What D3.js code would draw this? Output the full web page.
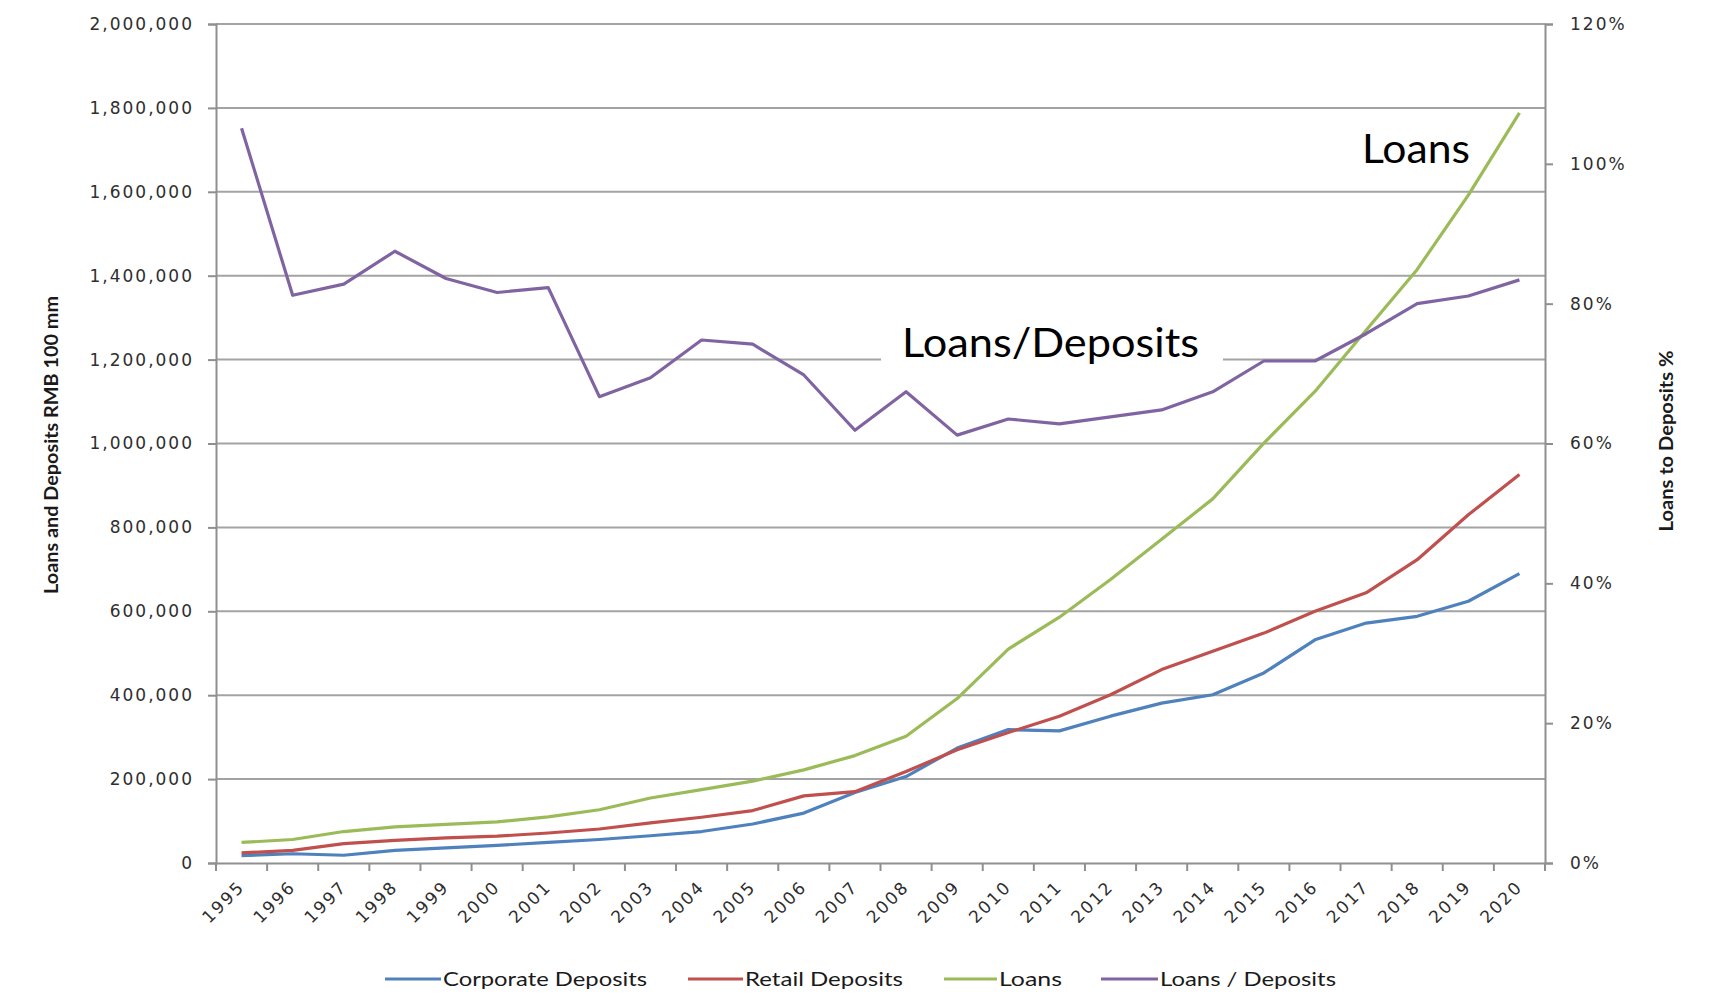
<!DOCTYPE html>
<html>
<head>
<meta charset="utf-8">
<script src="https://cdn.jsdelivr.net/npm/d3@7"></script>
<style>
  html, body { margin: 0; padding: 0; background: #ffffff; }
  svg { display: block; }
</style>
</head>
<body>
<svg id="chart" width="1709" height="1007"></svg>
<script>
// ---------------- data ----------------
const years = ["1995","1996","1997","1998","1999","2000","2001","2002","2003","2004","2005","2006","2007",
               "2008","2009","2010","2011","2012","2013","2014","2015","2016","2017","2018","2019","2020"];
const corporateDeposits = [17500, 22000, 18500, 30000, 36000, 42000, 49000, 56000, 65000, 75000, 93000, 119000, 168000,
                           206000, 274000, 318000, 315000, 350000, 381000, 401000, 453000, 532000, 572000, 588000, 624000, 690000];
const retailDeposits = [24000, 30000, 46000, 54000, 60000, 64000, 71500, 81000, 95500, 109000, 125000, 160000, 170000,
                        218000, 270000, 311000, 350000, 401000, 461000, 505000, 548000, 600000, 644000, 723000, 830000, 926000];
const loans = [49000, 56000, 75000, 86000, 92000, 98000, 110000, 127000, 155000, 175000, 195000, 222000, 256000,
               302000, 392000, 510000, 586000, 676000, 772000, 868000, 1001000, 1124000, 1270000, 1415000, 1592000, 1788000];
const loansToDeposits = [1.051, 0.812, 0.828, 0.875, 0.836, 0.816, 0.823, 0.667, 0.694, 0.748, 0.742, 0.698, 0.619,
                         0.674, 0.612, 0.635, 0.628, 0.638, 0.648, 0.674, 0.718, 0.718, 0.757, 0.800, 0.811, 0.834];
const leftTicks = [0, 200000, 400000, 600000, 800000, 1000000, 1200000, 1400000, 1600000, 1800000, 2000000];
const rightTicks = [0, 0.2, 0.4, 0.6, 0.8, 1.0, 1.2];
const seriesNames = ["Corporate Deposits", "Retail Deposits", "Loans", "Loans / Deposits"];
const seriesColors = ["#4F81BD", "#C0504D", "#9BBB59", "#8064A2"];
const leftTitle = "Loans and Deposits RMB 100 mm";
const rightTitle = "Loans to Deposits %";

// ---------------- layout ----------------
const svg = d3.select("#chart");
const L = 216, R = 1545, T = 24, B = 863;

const x = d3.scaleBand().domain(years).range([L, R]).padding(0);
const cx = d => x(d) + x.bandwidth() / 2;
const yL = d3.scaleLinear().domain([0, 2000000]).range([B, T]);
const yR = d3.scaleLinear().domain([0, 1.2]).range([B, T]);

const tickFont = "'DejaVu Sans', Verdana, sans-serif";
const axisGrey = "#8f8f8f";
const labelFill = "#2e2e2e";

// gridlines
svg.append("g").selectAll("line")
  .data(leftTicks.filter(v => v > 0))
  .join("line")
  .attr("x1", L).attr("x2", R)
  .attr("y1", d => yL(d)).attr("y2", d => yL(d))
  .attr("stroke", "#a3a3a3").attr("stroke-width", 2);

// left axis
const gL = svg.append("g").attr("transform", `translate(${L},0)`)
  .call(d3.axisLeft(yL).tickValues(leftTicks).tickFormat(d3.format(",")).tickSize(8).tickPadding(14));
gL.select(".domain").attr("stroke", axisGrey).attr("stroke-width", 2);
gL.selectAll(".tick line").attr("stroke", axisGrey).attr("stroke-width", 2);
gL.selectAll(".tick text").attr("font-family", tickFont).attr("font-size", 17)
  .attr("letter-spacing", "2px").attr("fill", labelFill);

// right axis
const gR = svg.append("g").attr("transform", `translate(${R},0)`)
  .call(d3.axisRight(yR).tickValues(rightTicks).tickFormat(d3.format(".0%")).tickSize(8).tickPadding(17));
gR.select(".domain").attr("stroke", axisGrey).attr("stroke-width", 2);
gR.selectAll(".tick line").attr("stroke", axisGrey).attr("stroke-width", 2);
gR.selectAll(".tick text").attr("font-family", tickFont).attr("font-size", 17)
  .attr("letter-spacing", "2px").attr("fill", labelFill);

// bottom axis
const gB = svg.append("g").attr("transform", `translate(0,${B})`)
  .call(d3.axisBottom(x).tickSize(0).tickFormat(""));
gB.select(".domain").attr("stroke", axisGrey).attr("stroke-width", 2);
gB.selectAll(".tick").remove();
// boundary ticks between categories
const boundaries = years.map(d => x(d)).concat([R]);
gB.selectAll("line.bt").data(boundaries).join("line").attr("class", "bt")
  .attr("x1", d => d).attr("x2", d => d).attr("y1", 0).attr("y2", 8)
  .attr("stroke", axisGrey).attr("stroke-width", 2);
// rotated year labels
svg.append("g").selectAll("text").data(years).join("text")
  .attr("transform", d => `translate(${cx(d) + 4},${B + 25}) rotate(-45)`)
  .attr("text-anchor", "end")
  .attr("font-family", tickFont).attr("font-size", 17).attr("letter-spacing", "2px")
  .attr("fill", labelFill)
  .text(d => d);

// axis titles
svg.append("text")
  .attr("transform", `translate(58,445) rotate(-90)`)
  .attr("text-anchor", "middle")
  .attr("font-family", "Lato, sans-serif").attr("font-weight", "bold").attr("font-size", 19)
  .attr("textLength", 298).attr("lengthAdjust", "spacingAndGlyphs")
  .attr("fill", "#1a1a1a")
  .text(leftTitle);
svg.append("text")
  .attr("transform", `translate(1673,441) rotate(-90)`)
  .attr("text-anchor", "middle")
  .attr("font-family", "Lato, sans-serif").attr("font-weight", "bold").attr("font-size", 19)
  .attr("textLength", 181).attr("lengthAdjust", "spacingAndGlyphs")
  .attr("fill", "#1a1a1a")
  .text(rightTitle);

// annotation box (white) behind "Loans/Deposits"
svg.append("rect").attr("x", 881).attr("y", 326).attr("width", 342).attr("height", 46).attr("fill", "#ffffff");

// series lines
const lineL = d3.line().x((d, i) => cx(years[i])).y(d => yL(d));
const lineR = d3.line().x((d, i) => cx(years[i])).y(d => yR(d));
const plotted = [
  { values: corporateDeposits, gen: lineL, color: seriesColors[0] },
  { values: retailDeposits, gen: lineL, color: seriesColors[1] },
  { values: loans, gen: lineL, color: seriesColors[2] },
  { values: loansToDeposits, gen: lineR, color: seriesColors[3] }
];
svg.append("g").selectAll("path").data(plotted).join("path")
  .attr("d", s => s.gen(s.values))
  .attr("fill", "none")
  .attr("stroke", s => s.color)
  .attr("stroke-width", 3.2)
  .attr("stroke-linejoin", "round");

// annotations
svg.append("text").attr("x", 902).attr("y", 357)
  .attr("font-family", "Lato, sans-serif").attr("font-size", 40).attr("fill", "#000")
  .attr("textLength", 297).attr("lengthAdjust", "spacingAndGlyphs")
  .text("Loans/Deposits");
svg.append("text").attr("x", 1362).attr("y", 163)
  .attr("font-family", "Lato, sans-serif").attr("font-size", 40).attr("fill", "#000")
  .attr("textLength", 108).attr("lengthAdjust", "spacingAndGlyphs")
  .text("Loans");

// legend
const legendItems = [
  { name: seriesNames[0], color: seriesColors[0], x1: 385, x2: 441, tx: 443, tw: 204 },
  { name: seriesNames[1], color: seriesColors[1], x1: 688, x2: 743, tx: 745, tw: 158 },
  { name: seriesNames[2], color: seriesColors[2], x1: 944, x2: 997, tx: 999, tw: 63 },
  { name: seriesNames[3], color: seriesColors[3], x1: 1101, x2: 1158, tx: 1160, tw: 176 }
];
const lg = svg.append("g");
lg.selectAll("line").data(legendItems).join("line")
  .attr("x1", d => d.x1).attr("x2", d => d.x2).attr("y1", 979).attr("y2", 979)
  .attr("stroke", d => d.color).attr("stroke-width", 3);
lg.selectAll("text").data(legendItems).join("text")
  .attr("x", d => d.tx).attr("y", 986)
  .attr("font-family", "Lato, sans-serif").attr("font-size", 19).attr("fill", "#1a1a1a")
  .attr("textLength", d => d.tw).attr("lengthAdjust", "spacingAndGlyphs")
  .text(d => d.name);
</script>
</body>
</html>
